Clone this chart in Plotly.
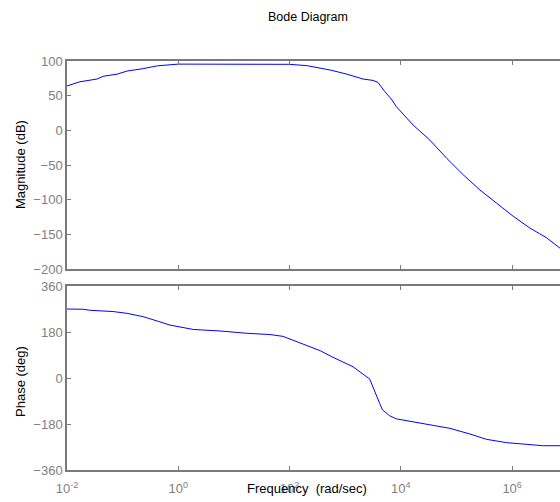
import plotly.graph_objects as go

# Magnitude curve (frequency in rad/sec, magnitude in dB)
mag_freq = [0.01, 0.017, 0.0347, 0.0447, 0.0794, 0.12, 0.234, 0.417, 1, 10, 100,
            204, 537, 1072, 2089, 3162, 3890, 5129, 6761, 8318, 16596, 33113,
            66069, 131826, 263027, 524807, 1047129, 2089296, 4168694, 7244360]
mag_db = [64, 70, 74, 78, 81, 85.5, 89, 93, 95.5, 95.5, 95.2,
          93.3, 87, 81, 74, 72, 69, 56, 45, 34, 7.7, -14,
          -40, -64, -86, -105, -124, -141, -155, -170]

# Phase curve (frequency in rad/sec, phase in deg)
ph_freq = [0.01, 0.0195, 0.0257, 0.0676, 0.12, 0.234, 0.417, 0.708, 1.86, 5.62,
           17.0, 44.7, 75.9, 174, 355, 603, 1380, 2754, 3631, 4169, 4677,
           5495, 6310, 8318, 21878, 75858, 173780, 346737, 794328, 1584893,
           3630781, 7244360]
ph_deg = [270, 269, 265, 260, 253, 240, 223, 207, 190, 184,
          175, 170, 163, 133, 107, 81, 44, -4, -73, -100, -125,
          -137, -148, -160, -177, -197, -219, -240, -253, -258,
          -265, -265]

x_tickvals = [0.01, 1, 100, 1e4, 1e6]
x_ticktext = ["10<sup>-2</sup>", "10<sup>0</sup>", "10<sup>2</sup>",
              "10<sup>4</sup>", "10<sup>6</sup>"]
mag_ticks = [-200, -150, -100, -50, 0, 50, 100]
ph_ticks = [-360, -180, 0, 180, 360]

FONT = "Liberation Sans, Arial, sans-serif"
GRAY = "#7a7a7a"
TICKGRAY = "#808080"

fig = go.Figure()
fig.add_trace(go.Scatter(x=mag_freq, y=mag_db, mode="lines",
                         line=dict(color="#0000ff", width=1), xaxis="x", yaxis="y",
                         showlegend=False, hoverinfo="skip"))
fig.add_trace(go.Scatter(x=ph_freq, y=ph_deg, mode="lines",
                         line=dict(color="#0000ff", width=1), xaxis="x2", yaxis="y2",
                         showlegend=False, hoverinfo="skip"))

xrange = [-2, 6.86]
common_x = dict(type="log", range=xrange, tickvals=x_tickvals, ticktext=x_ticktext,
                ticks="inside", ticklen=4, tickcolor=GRAY, tickwidth=1,
                showline=True, linecolor=GRAY, linewidth=1.5, mirror="ticks",
                showgrid=False, zeroline=False, automargin=False,
                tickfont=dict(family=FONT, size=13, color=TICKGRAY))
common_y = dict(ticks="inside", ticklen=4, tickcolor=GRAY, tickwidth=1,
                showline=True, linecolor=GRAY, linewidth=1.5, mirror=False,
                showgrid=False, zeroline=False, automargin=False,
                tickfont=dict(family=FONT, size=13, color=TICKGRAY))

fig.update_layout(
    width=560, height=502,
    margin=dict(l=67, r=0, t=0, b=0, autoexpand=False),
    paper_bgcolor="white", plot_bgcolor="white",
    xaxis=dict(common_x, domain=[0, 1], anchor="y", showticklabels=False),
    yaxis=dict(common_y, domain=[1 - 269 / 502, 1 - 61 / 502], range=[-200, 100],
               tickvals=mag_ticks, anchor="x"),
    xaxis2=dict(common_x, domain=[0, 1], anchor="y2", matches="x",
                ticklabelstandoff=6),
    yaxis2=dict(common_y, domain=[1 - 470 / 502, 1 - 286 / 502], range=[-360, 360],
                tickvals=ph_ticks, anchor="x2"),
    annotations=[
        dict(text="Bode Diagram", xref="paper", yref="paper",
             x=(308 - 67) / 493, y=1 - 17 / 502, showarrow=False,
             xanchor="center", yanchor="middle",
             font=dict(family=FONT, size=12.5, color="#000000")),
        dict(text="Magnitude (dB)", xref="paper", yref="paper",
             x=(21 - 67) / 493, y=1 - 165 / 502, showarrow=False, textangle=-90,
             xanchor="center", yanchor="middle",
             font=dict(family=FONT, size=13, color="#000000")),
        dict(text="Phase (deg)", xref="paper", yref="paper",
             x=(20 - 67) / 493, y=1 - 382 / 502, showarrow=False, textangle=-90,
             xanchor="center", yanchor="middle",
             font=dict(family=FONT, size=13, color="#000000")),
        dict(text="Frequency\u00a0 (rad/sec)", xref="paper", yref="paper",
             x=(307 - 67) / 493, y=1 - 488 / 502, showarrow=False,
             xanchor="center", yanchor="middle",
             font=dict(family=FONT, size=13, color="#000000")),
    ],
)

fig.write_html("out.html",
               config={"displayModeBar": False},
               post_script="document.body.style.margin='0';"
                           "document.body.style.overflow='hidden';")
